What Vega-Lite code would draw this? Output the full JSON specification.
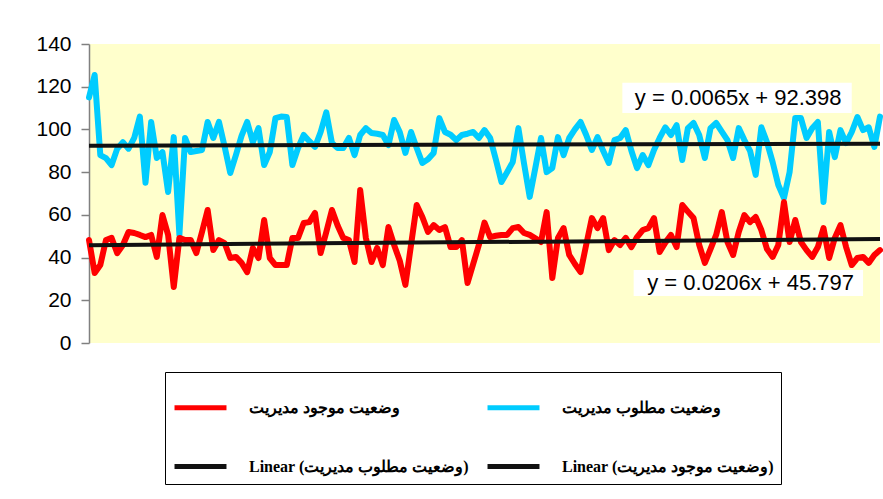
{
"$schema":"https://vega.github.io/schema/vega-lite/v6.json",
"width":791,"height":299,
"autosize":{"type":"none"},
"padding":{"left":89,"top":44,"right":3,"bottom":156},
"background":"white",
"config":{"view":{"fill":"#FFFFCC","stroke":null},"font":"Liberation Sans",
"axisY":{"grid":false,"labelFontSize":21,"labelColor":"#000","labelFont":"Liberation Sans","tickColor":"#808080","domainColor":"#808080","tickSize":8,"labelPadding":10,"domainWidth":1.5,"tickWidth":1.5}},
"datasets":{
"main":[
{"i":1,"des":115,"cur":48.2},{"i":2,"des":125.5,"cur":32.8},{"i":3,"des":88,"cur":36.5},{"i":4,"des":86.6,"cur":48.2},{"i":5,"des":83.3,"cur":49.2},
{"i":6,"des":91,"cur":42.1},{"i":7,"des":94,"cur":45.9},{"i":8,"des":91,"cur":52},{"i":9,"des":96,"cur":51.5},{"i":10,"des":106,"cur":50.6},
{"i":11,"des":75,"cur":49.6},{"i":12,"des":103.5,"cur":50.6},{"i":13,"des":86.6,"cur":40.3},{"i":14,"des":89.4,"cur":59.9},{"i":15,"des":70.7,"cur":50.6},
{"i":16,"des":96.4,"cur":26.2},{"i":17,"des":50.6,"cur":49.2},{"i":18,"des":96,"cur":48.2},{"i":19,"des":89.4,"cur":48.2},{"i":20,"des":89.9,"cur":42.1},
{"i":21,"des":90.4,"cur":52},{"i":22,"des":103.5,"cur":62.3},{"i":23,"des":96,"cur":43.5},{"i":24,"des":103.5,"cur":48.2},{"i":25,"des":92,"cur":46.8},
{"i":26,"des":79.6,"cur":39.8},{"i":27,"des":88,"cur":40.3},{"i":28,"des":97,"cur":37.5},{"i":29,"des":103.5,"cur":33.2},{"i":30,"des":94,"cur":44.5},
{"i":31,"des":100.6,"cur":39.8},{"i":32,"des":83.3,"cur":57.6},{"i":33,"des":89.4,"cur":39.8},{"i":34,"des":105.3,"cur":36.5},{"i":35,"des":106,"cur":36.5},
{"i":36,"des":105.8,"cur":36.5},{"i":37,"des":83.3,"cur":49.2},{"i":38,"des":91.3,"cur":49.2},{"i":39,"des":97.4,"cur":56.2},{"i":40,"des":94.5,"cur":56.6},
{"i":41,"des":91.8,"cur":60.9},{"i":42,"des":98.8,"cur":42.1},{"i":43,"des":108,"cur":52},{"i":44,"des":93.6,"cur":62.3},{"i":45,"des":91.3,"cur":55},
{"i":46,"des":91.3,"cur":49.2},{"i":47,"des":96,"cur":48.2},{"i":48,"des":88,"cur":37.9},{"i":49,"des":97.4,"cur":71.6},{"i":50,"des":100.6,"cur":49.2},
{"i":51,"des":98.3,"cur":37.9},{"i":52,"des":98,"cur":44.5},{"i":53,"des":97.4,"cur":36.5},{"i":54,"des":92.7,"cur":54.3},{"i":55,"des":104.4,"cur":45.9},
{"i":56,"des":98.8,"cur":38.5},{"i":57,"des":89,"cur":27.2},{"i":58,"des":98.8,"cur":46},{"i":59,"des":91.3,"cur":64.6},{"i":60,"des":84.3,"cur":59},
{"i":61,"des":86,"cur":52},{"i":62,"des":89,"cur":55.2},{"i":63,"des":105.3,"cur":52.9},{"i":64,"des":98.8,"cur":54.3},{"i":65,"des":97.5,"cur":44.9},
{"i":66,"des":95,"cur":44.9},{"i":67,"des":97.4,"cur":48.2},{"i":68,"des":98,"cur":28.1},{"i":69,"des":98.8,"cur":37},{"i":70,"des":96,"cur":45.9},
{"i":71,"des":99.7,"cur":56.4},{"i":72,"des":96,"cur":49.6},{"i":73,"des":86,"cur":50.2},{"i":74,"des":75.4,"cur":50.6},{"i":75,"des":80,"cur":50.6},
{"i":76,"des":84.7,"cur":53.8},{"i":77,"des":100.6,"cur":54.3},{"i":78,"des":84,"cur":51.5},{"i":79,"des":68.4,"cur":50.6},{"i":80,"des":82,"cur":49},
{"i":81,"des":96,"cur":47.3},{"i":82,"des":80,"cur":61.3},{"i":83,"des":81.9,"cur":30.4},{"i":84,"des":96.4,"cur":49.2},{"i":85,"des":88,"cur":53.8},
{"i":86,"des":96,"cur":41.2},{"i":87,"des":100,"cur":37},{"i":88,"des":103.5,"cur":33.2},{"i":89,"des":97.4,"cur":46},{"i":90,"des":90.4,"cur":58.5},
{"i":91,"des":96.4,"cur":53.8},{"i":92,"des":90,"cur":58.5},{"i":93,"des":84.3,"cur":43.5},{"i":94,"des":95,"cur":48.2},{"i":95,"des":96,"cur":45.9},
{"i":96,"des":99.7,"cur":49.2},{"i":97,"des":90,"cur":44.9},{"i":98,"des":81.9,"cur":49.6},{"i":99,"des":88,"cur":52.9},{"i":100,"des":83.3,"cur":53.8},
{"i":101,"des":90.4,"cur":58.5},{"i":102,"des":96,"cur":42.6},{"i":103,"des":101,"cur":47},{"i":104,"des":97.4,"cur":50.6},{"i":105,"des":102,"cur":44.9},
{"i":106,"des":85.7,"cur":64.6},{"i":107,"des":100.6,"cur":61.5},{"i":108,"des":103,"cur":58.5},{"i":109,"des":97.4,"cur":45.9},{"i":110,"des":86.6,"cur":37.5},
{"i":111,"des":100.6,"cur":44},{"i":112,"des":103,"cur":50.6},{"i":113,"des":99,"cur":61.3},{"i":114,"des":95,"cur":47.3},{"i":115,"des":86.6,"cur":41.2},
{"i":116,"des":100.6,"cur":52},{"i":117,"des":95,"cur":59.9},{"i":118,"des":90,"cur":56.6},{"i":119,"des":78.7,"cur":59},{"i":120,"des":101,"cur":52.9},
{"i":121,"des":94,"cur":44},{"i":122,"des":84.7,"cur":40.3},{"i":123,"des":74,"cur":45.9},{"i":124,"des":67.9,"cur":66},{"i":125,"des":80,"cur":47.3},
{"i":126,"des":105.3,"cur":57.6},{"i":127,"des":105.3,"cur":47.3},{"i":128,"des":96,"cur":43.5},{"i":129,"des":100.6,"cur":40.3},{"i":130,"des":103.5,"cur":44.9},
{"i":131,"des":66,"cur":53.8},{"i":132,"des":98.8,"cur":39.8},{"i":133,"des":87,"cur":49.2},{"i":134,"des":99.7,"cur":55.2},{"i":135,"des":93.6,"cur":44.9},
{"i":136,"des":98.8,"cur":36.5},{"i":137,"des":105.8,"cur":39.8},{"i":138,"des":99.7,"cur":40.3},{"i":139,"des":101,"cur":37.5},{"i":140,"des":91.8,"cur":41.2},
{"i":141,"des":106,"cur":43.5}
],
"trend":[
{"i":1,"s":"tdes","v":92.4045},{"i":141,"s":"tdes","v":93.3145},
{"i":1,"s":"tcur","v":45.8176},{"i":141,"s":"tcur","v":48.7016}
],
"boxes":[
{"x":95.4,"x2":136.0,"y":121.8,"y2":107.7},
{"x":97.4,"x2":138.0,"y":34.2,"y2":22.0}
],
"eqs":[
{"i":115.9,"v":114.8,"t":"y = 0.0065x + 92.398"},
{"i":118.1,"v":28.1,"t":"y = 0.0206x + 45.797"}
]
},
"layer":[
{"data":{"name":"main"},"transform":[{"fold":["des"],"as":["s","v"]}],
 "mark":{"type":"line","strokeWidth":6,"strokeJoin":"round","strokeCap":"round"},
 "encoding":{
  "x":{"field":"i","type":"quantitative","scale":{"domain":[1,141],"nice":false,"zero":false},"axis":null},
  "y":{"field":"v","type":"quantitative","scale":{"domain":[0,140],"nice":false},"axis":{"values":[0,20,40,60,80,100,120,140],"title":null}},
  "color":{"field":"s","type":"nominal","scale":{"domain":["cur","tdes","des","tcur"],"range":["#FF0000","#111111","#00CCFF","#111111"]},
   "legend":{"orient":"none","legendX":76,"legendY":328,"columns":2,"symbolType":"stroke","symbolSize":2700,"symbolStrokeWidth":5,
    "labelFont":"Liberation Serif","labelFontWeight":"bold","labelFontSize":16,"labelColor":"#000","labelLimit":400,
    "strokeColor":"#000","fillColor":"#fff","padding":7,"rowPadding":20,"columnPadding":8,"labelOffset":20,"title":null,
    "labelExpr":"datum.value=='des'?'وضعیت مطلوب مدیریت':datum.value=='cur'?'وضعیت موجود مدیریت':datum.value=='tdes'?'Linear (وضعیت مطلوب مدیریت)':'Linear (وضعیت موجود مدیریت)'"}}
 }},
{"data":{"name":"main"},"transform":[{"fold":["cur"],"as":["s","v"]}],
 "mark":{"type":"line","strokeWidth":6,"strokeJoin":"round","strokeCap":"round"},
 "encoding":{
  "x":{"field":"i","type":"quantitative","axis":null},
  "y":{"field":"v","type":"quantitative","title":null},
  "color":{"field":"s","type":"nominal"}
 }},
{"data":{"name":"trend"},
 "mark":{"type":"line","strokeWidth":4},
 "encoding":{
  "x":{"field":"i","type":"quantitative","axis":null},
  "y":{"field":"v","type":"quantitative","title":null},
  "color":{"field":"s","type":"nominal"},
  "detail":{"field":"s"}
 }},
{"data":{"name":"boxes"},
 "mark":{"type":"rect","fill":"white"},
 "encoding":{
  "x":{"field":"x","type":"quantitative","axis":null},"x2":{"field":"x2"},
  "y":{"field":"y","type":"quantitative","title":null},"y2":{"field":"y2"}
 }},
{"data":{"name":"eqs"},
 "mark":{"type":"text","fontSize":22,"font":"Liberation Sans","color":"#000","align":"center","baseline":"middle"},
 "encoding":{
  "x":{"field":"i","type":"quantitative","axis":null},
  "y":{"field":"v","type":"quantitative","title":null},
  "text":{"field":"t"}
 }}
]
}
